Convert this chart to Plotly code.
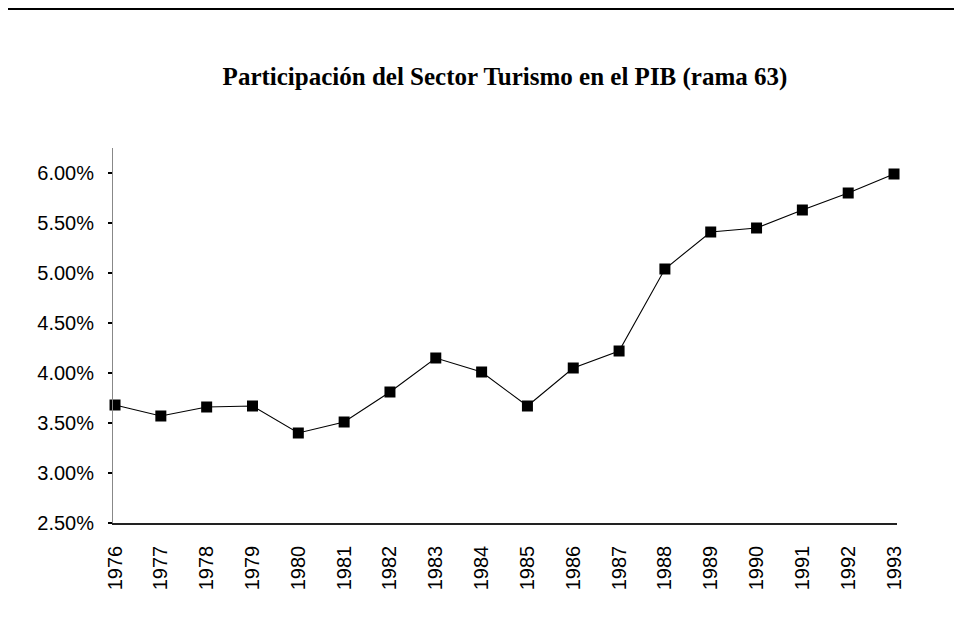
import plotly.graph_objects as go

years = ["1976", "1977", "1978", "1979", "1980", "1981", "1982", "1983", "1984",
         "1985", "1986", "1987", "1988", "1989", "1990", "1991", "1992", "1993"]
share_pct = [3.68, 3.57, 3.66, 3.67, 3.40, 3.51, 3.81, 4.15, 4.01,
             3.67, 4.05, 4.22, 5.04, 5.41, 5.45, 5.63, 5.80, 5.99]
y_ticks_pct = [2.5, 3.0, 3.5, 4.0, 4.5, 5.0, 5.5, 6.0]
title_text = "Participación del Sector Turismo en el PIB (rama 63)"

share = [v / 100 for v in share_pct]
y_ticks = [v / 100 for v in y_ticks_pct]

# page body has an 8px margin, so the figure is laid out 8px up/left
L, T, PW, PH = 105, 140, 784, 375

fig = go.Figure()
fig.add_trace(go.Scatter(
    x=years, y=share, mode="lines+markers",
    line=dict(color="black", width=1.1),
    marker=dict(symbol="square", size=11, color="black"),
    cliponaxis=False, showlegend=False,
))

fig.update_layout(
    width=962, height=636,
    paper_bgcolor="white", plot_bgcolor="white",
    margin=dict(l=L, r=962 - L - PW, t=T, b=636 - T - PH),
    title=dict(text=title_text, x=497 / 962, xanchor="center", y=1 - 68 / 636, yanchor="middle",
               font=dict(family="Liberation Serif", size=25, color="black", weight="bold")),
    xaxis=dict(
        type="category", range=[-0.044, 17.065],
        showline=True, linecolor="#222", linewidth=1.5,
        showgrid=False, ticks="", tickangle=-90,
        tickfont=dict(family="Liberation Sans", size=20, color="black"),
        ticklabelstandoff=13,
    ),
    yaxis=dict(
        range=[0.025, 0.0625], tickvals=y_ticks, tickformat=".2%",
        showline=True, linecolor="#888", linewidth=1,
        showgrid=False, zeroline=False,
        ticks="outside", ticklen=4, tickcolor="black", tickwidth=1.5,
        tickfont=dict(family="Liberation Sans", size=20, color="black"),
        ticklabelstandoff=10,
    ),
    shapes=[dict(type="line", xref="paper", yref="paper",
                 x0=-L / PW, x1=(962 - L) / PW,
                 y0=1 + (T - 1) / PH, y1=1 + (T - 1) / PH,
                 line=dict(color="black", width=2))],
)

fig.write_html("out.html")
